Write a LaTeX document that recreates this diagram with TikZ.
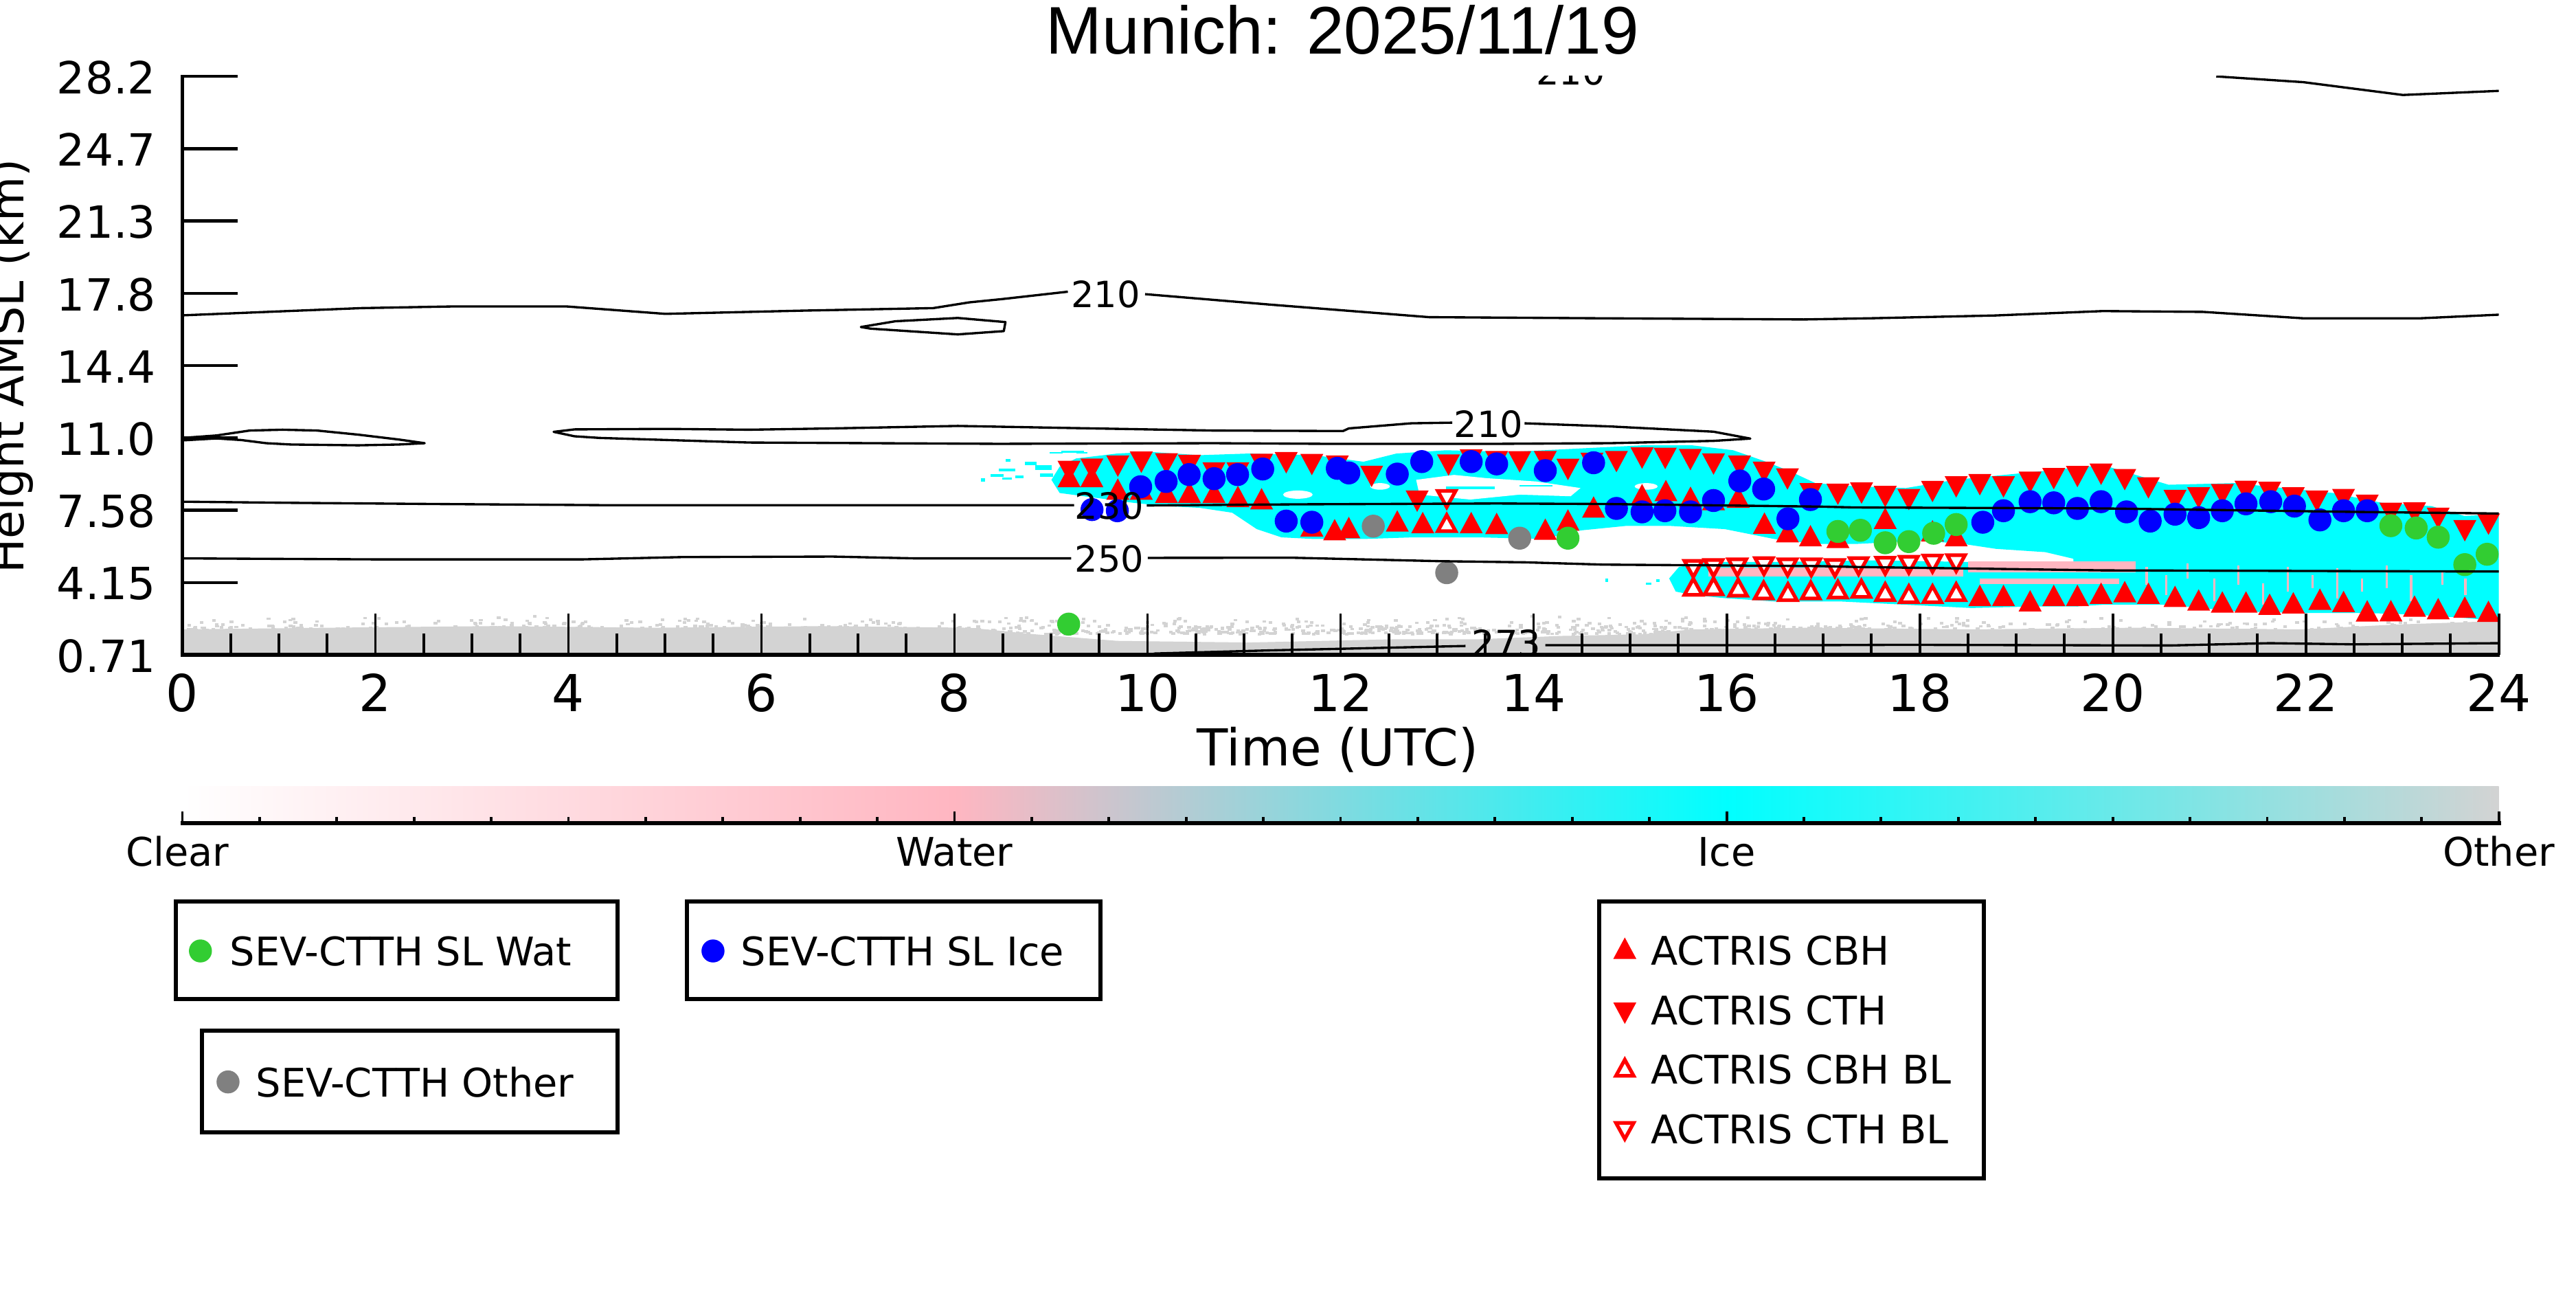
\documentclass[tikz,border=0pt]{standalone}
\usepackage{fontspec}
\setmainfont{DejaVu Sans}
\newfontfamily\titlefont{Liberation Sans}
\definecolor{cpink}{RGB}{255,182,193}
\definecolor{ccyan}{RGB}{0,255,255}
\definecolor{cgray}{RGB}{211,211,211}
\definecolor{cgreen}{RGB}{50,205,50}
\definecolor{cblue}{RGB}{0,0,255}
\definecolor{cother}{RGB}{128,128,128}
\pgfdeclarehorizontalshading{cbarshade}{100bp}{color(0bp)=(white); color(25bp)=(white); color(41.6667bp)=(cpink); color(58.3333bp)=(ccyan); color(75bp)=(cgray); color(100bp)=(cgray)}
\newcommand\mymkdn[3]{\fill[#1,shift={(#2,#3)}] (-7,-6.5) -- (7,-6.5) -- (0,6.5) -- cycle;}
\newcommand\mymkup[3]{\fill[#1,shift={(#2,#3)}] (-7,6.5) -- (7,6.5) -- (0,-6.5) -- cycle;}
\newcommand\mymkodn[2]{\filldraw[fill=white,draw=red,line width=2.2pt,shift={(#1,#2)}] (-5.4,-5.2) -- (5.4,-5.2) -- (0,4.6) -- cycle;}
\newcommand\mymkoup[2]{\filldraw[fill=white,draw=red,line width=2.2pt,shift={(#1,#2)}] (-5.4,5.2) -- (5.4,5.2) -- (0,-4.6) -- cycle;}
\begin{document}
\begin{tikzpicture}[x=1pt,y=-1pt,
  spine/.style={line width=2.4pt},
  tk/.style={line width=1.6pt},
  contour/.style={line width=1.4pt, line join=round},
  clab/.style={font=\fontsize{22}{24}\selectfont, inner sep=0pt},
  ytl/.style={font=\fontsize{27}{30}\selectfont, anchor=base east, inner sep=0pt},
  xtl/.style={font=\fontsize{31}{34}\selectfont, anchor=base, inner sep=0pt},
  leg/.style={font=\fontsize{24}{28}\selectfont, anchor=base west, inner sep=0pt},
  legbox/.style={draw, line width=2.5pt},
  cbl/.style={font=\fontsize{24}{28}\selectfont, anchor=base, inner sep=0pt}]
\useasboundingbox (0,0) rectangle (1568,784);
\fill[white] (0,0) rectangle (1568,784);

% ---------- cloud mask ----------
% upper layer and merged region
\fill[ccyan] (640,292) -- (645,284) -- (655,279) -- (680,276) -- (700,275) -- (730,277) -- (760,276) -- (800,277) -- (830,281) -- (850,276) -- (880,274) -- (920,275) -- (960,273) -- (1000,271) -- (1030,271) -- (1055,274) -- (1075,281) -- (1090,287) -- (1105,294) -- (1130,296) -- (1160,297) -- (1190,292) -- (1220,289) -- (1260,285) -- (1280,283) -- (1300,289) -- (1320,295) -- (1360,294) -- (1390,297) -- (1420,300) -- (1450,306) -- (1480,308) -- (1500,314) -- (1521,313)
  -- (1521,378) -- (1500,376) -- (1470,374) -- (1440,373) -- (1400,373) -- (1360,372) -- (1320,368) -- (1280,368) -- (1264,369) -- (1262,340) -- (1245,336) -- (1215,334) -- (1195,331) -- (1170,329) -- (1130,331) -- (1105,331) -- (1080,328) -- (1050,322) -- (1016,320) -- (990,320) -- (960,323) -- (940,328) -- (900,327) -- (860,327) -- (830,328) -- (800,328) -- (780,327) -- (765,322) -- (750,312) -- (730,309) -- (710,308) -- (690,306) -- (660,302) -- (645,300) -- cycle;
% lower layer
\fill[ccyan] (1022,345) -- (1040,342) -- (1080,342) -- (1140,341) -- (1200,342) -- (1263,342) -- (1265,369) -- (1240,369) -- (1200,370) -- (1160,368) -- (1120,366) -- (1080,366) -- (1050,364) -- (1030,362) -- (1020,360) -- (1016,352) -- cycle;
% white blotches in upper layer
\fill[white] (862,292) -- (885,289) -- (905,291) -- (935,293) -- (962,297) -- (956,302) -- (925,301) -- (895,304) -- (864,301) -- cycle;
\fill[white] (790,301) ellipse [x radius=9, y radius=2.5];
\fill[white] (1002,296) ellipse [x radius=7, y radius=2];
\fill[white] (840,296) ellipse [x radius=6, y radius=2];
\fill[ccyan] (880,296) rectangle (910,297.5);
\fill[ccyan] (925,295) rectangle (945,296.2);
% pink patches
\fill[cpink] (1040,345.5) rectangle (1195,351);
\fill[cpink] (1198,341.5) rectangle (1300,348.5);
\fill[cpink] (1205,352) rectangle (1290,355.5);
\foreach \px/\pa/\pb in {1306/345/356,1318/350/362,1331/343/352,1347/352/366,1362/344/356,1377/355/368,1392/345/360,1407/350/358,1422/346/364,1437/352/360,1452/344/358,1467/350/366,1486/347/356,1500/352/362}
  {\fill[cpink] (\px,\pa) rectangle ++(1.3,\pb-\pa);}
% scattered cyan bits
\foreach \bx/\by/\bw/\bh in {597/293/2.5/2,603/290/8/1.5,608/287/10/2,612/281/3/1.5,618/291/5/1.5,624/283/7/2,630/286/10/3,633/290/8/2,639/276/8/1,646/275.5/14/1.2,655/276/7/1,610/292/6/1.2,977/354/2/2,1002/356/3/1.5,1008/354/2/1.5}
  {\fill[ccyan] (\bx,\by) rectangle ++(\bw,-\bh);}
% ground
\fill[cgray] (111,398) -- (111,383) -- (200,382) -- (300,381) -- (400,382) -- (500,381) -- (590,382) -- (630,386) -- (680,390) -- (760,391) -- (850,389) -- (900,389) -- (950,387) -- (1000,386) -- (1030,383) -- (1100,382) -- (1200,383) -- (1300,382) -- (1400,383) -- (1460,380) -- (1521,378) -- (1521,398) -- cycle;
\pgfmathsetseed{7}
\foreach \i in {1,...,1600}{
  \pgfmathsetmacro\rx{111+1408*rnd}
  \pgfmathsetmacro\ry{385-11*rnd*rnd}
  \fill[cgray] (\rx,\ry) rectangle ++(2.2,1.6);
}

% ---------- markers ----------
\foreach \px/\py in {650.7/286.9,664.6/285.5,680.4/283.7,694.7/281.3,710/282.3,724/283.3,738.9/287.8,753.5/287.8,767.9/282.6,782.9/281.6,798.5/282.7,814/283.7,834.9/289.9,862.6/305,881.7/283,895.5/279.9,911/280.9,925/281.1,940.6/280.9,954.4/285.7,969/282,983.9/280.9,999.5/278.8,1013.6/279,1028.9/279.7,1043/282.4,1058.8/283.7,1073.8/287.4,1088/291.5,1102.3/300.5,1118.7/300.8,1133.1/300.1,1147.5/302.2,1161.9/304,1176.3/299.1,1190.7/296.3,1205.1/295,1219.5/296.3,1235.7/293.5,1250.1/291.3,1264.5/290,1278.9/288.6,1293.3/291.9,1307.7/296.9,1323.9/304.6,1338.3/303,1352.7/301,1367.1/299,1381.5/299.7,1395.9/303,1410.3/305,1426.5/304,1440.9/307.5,1455.3/312.4,1469.7/312.2,1484.1/315.4,1500.3/323,1514.7/319}
  {\mymkdn{red}{\px}{\py}}
\foreach \px/\py in {650.7/290,664.6/290,680.4/297.6,694.7/297.6,710/299.6,724/299.6,738.9/299.6,753.5/302.1,767.9/303.5,798.5/320,812.4/322.3,821/321,850.5/317,866/318,895.5/318,911/318.5,940.6/322,954.4/316.4,970/308.5,999.5/301,1014/298.5,1029/302.6,1043/304,1058/302.5,1074/318.3,1088/323.6,1102/326,1118.7/327,1147.5/315.4,1176.3/323,1190.7/326,1205.1/362.3,1219.5/362.3,1235.7/365.6,1250.1/362.3,1264.5/362.3,1278.9/361,1293.3/360,1307.7/361,1323.9/362.9,1338.3/365.1,1352.7/366.3,1367.1/366.3,1381.5/367.7,1395.9/366.8,1412.1/364.6,1426.5/366,1440.9/371.7,1455.3/371.6,1469.7/368.8,1484.1/370.4,1500.3/369.4,1514.7/372}
  {\mymkup{red}{\px}{\py}}
\foreach \px/\py in {880.6/304,1030.7/346.5,1043/346,1057.5/345.6,1073.7/344.8,1088.1/345.6,1102.5/345.6,1116.9/346,1131.3/344.8,1147.5/344.6,1161.9/344,1176.3/343.3,1190.7/343}
  {\mymkodn{\px}{\py}}
\foreach \px/\py in {880.6/318,1030.7/356.8,1043/356.5,1058/357.3,1073.5/359,1088.3/360,1102.2/359,1118.7/358.5,1133/358,1147.5/360,1161.9/361.3,1176.3/361.3,1190.7/360}
  {\mymkoup{\px}{\py}}
\foreach \px/\py in {664.7/310.1,680.1/310.8,694.3/296.2,709.8/293,723.8/288.8,739/291.3,753.3/288.8,768.6/285.4,782.9/317.1,798.5/317.8,814/285,821/287.8,850.5/288.5,865.4/280.9,895.5/280.9,911/282.3,940.6/286.4,970/281.6,983.9/309.4,999.5/311.5,1013.4/310.8,1029/311.5,1043/304.6,1059/292.7,1073.5/297.6,1088.3/315.7,1102/304,1206.9/317.8,1219.5/310.8,1235.7/305.3,1250.1/306,1264.5/309.4,1278.9/305.3,1294.4/311.5,1308.8/317.1,1323.9/312.9,1338.3/315,1352.7/310.8,1367.1/306.6,1382.2/305.3,1396.6/308,1412.1/316.4,1426.5/310.8,1440.9/310.8}
  {\fill[cblue] (\px,\py) circle [radius=7];}
\foreach \px/\py in {650.5/379.8,954.4/327.5,1118.7/323.4,1132.4/322.7,1147.5/330.3,1161.9/329.6,1177/324.5,1190.7/319.2,1455.3/319.9,1470.7/321.3,1484.1/326.9,1500.3/343.6,1513.9/337.3}
  {\fill[cgreen] (\px,\py) circle [radius=7];}
\foreach \px/\py in {835.9/320.2,880.6/348.5,925/327.5}
  {\fill[cother] (\px,\py) circle [radius=7];}

% ---------- contours ----------
\begin{scope}
\clip (111,46) rectangle (1521,399);
\draw[contour] (111,191.9) -- (170,189.5) -- (220,187.5) -- (275,186.5) -- (345,186.5) -- (405,191) -- (490,189) -- (568,187.5) -- (590,184) -- (610,182) -- (650,177.5);
\draw[contour] (697,179) -- (773.5,185.4) -- (869.8,193) -- (976,193.7) -- (1097.9,194.4) -- (1138,193.7) -- (1214,192) -- (1280,189.3) -- (1341,189.8) -- (1402,193.7) -- (1473,193.7) -- (1521,191.5);
\draw[contour] (524,199) -- (545,195.5) -- (583,193.5) -- (612,196) -- (611,201.5) -- (583,203.5) -- (530,200) -- cycle;
\draw[contour] (1349,46.5) -- (1402,50) -- (1462.6,57.8) -- (1521,55.3);
\draw[contour] (111,266.5) -- (131.8,265) -- (152,262) -- (172,261.5) -- (193,262) -- (218,264.5) -- (243,267.5) -- (258.5,269.7) -- (243,270.5) -- (218,271) -- (177,270.5) -- (162,269.7) -- (147,267.8) -- (131.8,266.8) -- (111,268);
\draw[contour] (928,257.6) -- (980,259.5) -- (1043,262.7) -- (1065.4,266.9) -- (1043,268.3) -- (980,269.7) -- (911,270.1) -- (807,270.1) -- (738,269.7) -- (608,270.1) -- (456,269.3) -- (365,266.5) -- (349.7,265.5) -- (337,262.8) -- (349.7,261.3) -- (405.5,261) -- (456,261.5) -- (507,260.7) -- (583,259.2) -- (648,260.4) -- (738,262) -- (817.5,262.3) -- (821,260.7) -- (859,257.6) -- (884,257.2);
\draw[contour] (111,305.3) -- (177.4,306) -- (263.6,306.7) -- (365,307.4) -- (653.8,307.4);
\draw[contour] (698,307.6) -- (789.8,306.9) -- (911,306.4) -- (976.2,306.7) -- (1108,308.3) -- (1128.3,308.8) -- (1280.3,309.4) -- (1432.4,311.5) -- (1521,312.5);
\draw[contour] (111,339.8) -- (228,340.4) -- (354.8,340.4) -- (415.6,339) -- (506.8,338.7) -- (557.5,339.8) -- (652,339.8);
\draw[contour] (698.6,339.5) -- (786.3,339.4) -- (876.5,341.5) -- (928.5,342.2) -- (976.2,343.6) -- (1108,344.5) -- (1128.3,345) -- (1280.3,347.1) -- (1521,347.8);
\draw[contour] (699.4,398.6) -- (703,397.7) -- (772.5,395.8) -- (892,393.1);
\draw[contour] (940.6,392.6) -- (1108,392.6) -- (1158.7,392.4) -- (1320.9,392.8) -- (1381.7,391.4) -- (1432.4,392.1) -- (1521,391.4);
\node[clab, name=c210top] at (956,43.5) {210};
\end{scope}
\node[clab, name=c210a] at (673,179) {210};
\node[clab, name=c210b] at (906,258) {210};
\node[clab, name=c230] at (675.3,308) {230};
\node[clab, name=c250] at (675.3,340) {250};
\node[clab, name=c273] at (917,391.7) {273};

% ---------- axes ----------
\foreach \k/\lab in {0/28.2,1/24.7,2/21.3,3/17.8,4/14.4,5/11.0,6/7.58,7/4.15,8/0.71}{
  \draw[tk, line width=1.9pt] (111,{46.5+44*\k}) -- (144.5,{46.5+44*\k});
  \node[ytl, name=yt\k] at (95,{46.5+44*\k+10.5}) {\lab};
}
\foreach \t in {0,2,...,24}{
  \draw[tk] ({111+58.75*\t},398.5) -- ({111+58.75*\t},373.5);
  \node[xtl, name=xt\t] at ({111+58.75*\t},432.8) {\t};
}
\foreach \t in {0.5,1,1.5,2.5,3,3.5,4.5,5,5.5,6.5,7,7.5,8.5,9,9.5,10.5,11,11.5,12.5,13,13.5,14.5,15,15.5,16.5,17,17.5,18.5,19,19.5,20.5,21,21.5,22.5,23,23.5}{
  \draw[tk] ({111+58.75*\t},398.5) -- ({111+58.75*\t},385.5);
}
\draw[spine] (111,45.5) -- (111,399.7);
\draw[spine] (109.8,398.5) -- (1521.5,398.5);
\node[xtl, name=xlab, font=\fontsize{31}{34}\selectfont] at (814.4,466.2) {Time (UTC)};
\node[name=ylab, rotate=90, anchor=base, inner sep=0pt, font=\fontsize{28}{32}\selectfont] at (14.6,222.9) {Height AMSL (km)};
\node[name=title, anchor=base, inner sep=0pt, font=\titlefont\fontsize{41}{48}\selectfont] at (817.2,32.8) {Munich: 2025/11/19};

% ---------- colour bar ----------
\shade[shading=cbarshade] (111,478.6) rectangle (1521,500.5);
\foreach \k in {0,...,30}{
  \pgfmathsetmacro\th{ifthenelse(mod(\k,10)==0,7,3.8)}
  \draw[tk] ({111+47*\k},501) -- ({111+47*\k},{501-\th});
}
\draw[spine] (109.8,501) -- (1522.2,501);
\node[cbl, name=cbclear] at (108,527.1) {Clear};
\node[cbl, name=cbwater] at (581,527.1) {Water};
\node[cbl, name=cbice] at (1051,527.1) {Ice};
\node[cbl, name=cbother] at (1521,527.1) {Other};

% ---------- legends ----------
\draw[legbox] (107,548.6) rectangle (376,608);
\fill[cgreen] (122,578.7) circle [radius=7];
\node[leg, name=lwat] at (139.8,587.8) {SEV-CTTH SL Wat};
\draw[legbox] (418,548.6) rectangle (670,608);
\fill[cblue] (434,578.7) circle [radius=7];
\node[leg, name=lice] at (450.8,587.8) {SEV-CTTH SL Ice};
\draw[legbox] (123,627) rectangle (376,689);
\fill[cother] (138.8,658.4) circle [radius=7];
\node[leg, name=loth] at (155.6,667.5) {SEV-CTTH Other};
\draw[legbox] (973.5,548.6) rectangle (1207.5,717);
\mymkup{red}{989}{577}
\node[leg, name=lcbh] at (1004.8,587.4) {ACTRIS CBH};
\mymkdn{red}{989}{616.6}
\node[leg, name=lcth] at (1004.8,623.8) {ACTRIS CTH};
\mymkoup{989}{649.5}
\node[leg, name=lcbhbl] at (1004.8,659.7) {ACTRIS CBH BL};
\mymkodn{989}{688.5}
\node[leg, name=lcthbl] at (1004.8,696.1) {ACTRIS CTH BL};
\end{tikzpicture}
\end{document}
